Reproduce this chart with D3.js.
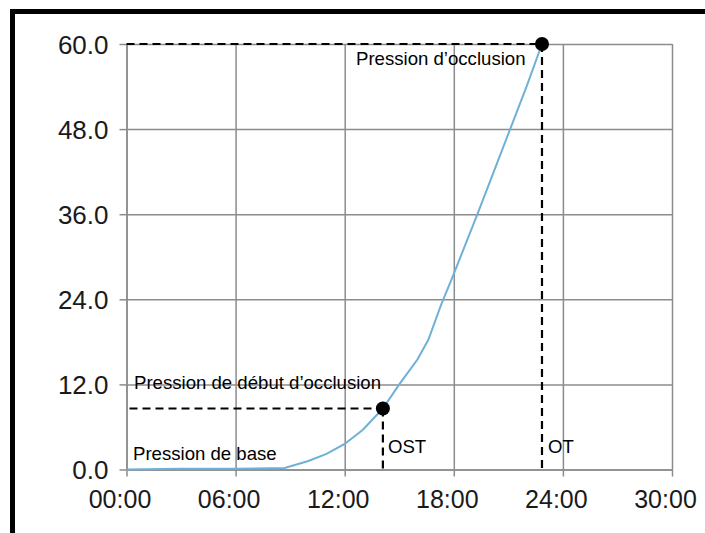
<!DOCTYPE html>
<meta charset="utf-8">
<html>
  <head>
    <script src="https://d3js.org/d3.v7.min.js"></script>
    <style type="text/css">
      body{
        margin: 0;
        background: #fff;
      }
      .grid line{
        stroke: #8c8c8c;
        stroke-width: 1.5;
      }
      .grid path{
        display: none;
      }
      .axis text{
        font-family: "Liberation Sans", Arial, sans-serif;
        fill: #1a1a1a;
      }
      .axis line, .axis path{
        stroke: #8c8c8c;
        stroke-width: 1.5;
      }
      .note{
        font-family: "Liberation Sans", Arial, sans-serif;
        font-size: 18.6px;
        fill: #000;
      }
    </style>
  </head>
  <body>
    <div id="plot"></div>
  </body>

  <script>
    // time in hours, pressure values
    var hours    = [0, 3, 6, 8.7, 10, 11, 12, 13, 14.1, 15, 16, 16.6, 17.3, 18, 19.3, 20.2, 21.1, 22, 22.85];
    var pressure = [0, 0.1, 0.1, 0.2, 1.2, 2.2, 3.6, 5.6, 8.6, 12.0, 15.5, 18.3, 23.2, 27.6, 36, 42, 48, 54, 60];

    var xTicks = [0, 6, 12, 18, 24, 30];
    var yTicks = [0, 12, 24, 36, 48, 60];

    // start of occlusion (OST) and occlusion (OT)
    var ost = {h: 14.1, p: 8.6};
    var ot  = {h: 22.85, p: 60};

    var W = 705, H = 533;
    var margin = {top:44, right:33, bottom:63.5, left:126.5},
        width = W-margin.left-margin.right,
        height = H-margin.top-margin.bottom;

    var root = d3.select("#plot").append("svg")
        .attr("width", W)
        .attr("height", H);

    root.append("rect").attr("width", W).attr("height", H).style("fill", "#fff");

    // black frame, top and left
    root.append("path")
        .attr("d", "M12.5,533 V11.5 H705")
        .style("fill", "none")
        .style("stroke", "#000")
        .style("stroke-width", 5);

    var svg = root.append("g")
        .attr("transform","translate("+margin.left+","+margin.top+")");

    var x = d3.scaleLinear().domain([0, 30]).range([0, width]);
    var y = d3.scaleLinear().domain([0, 60]).range([height, 0]);

    var pad = function(n){ return (n < 10 ? "0" : "") + n; };

    // grid
    svg.append("g")
       .attr("class","grid")
       .attr("transform", "translate(0," + height + ")")
       .call(d3.axisBottom(x).tickValues(xTicks).tickSize(-height).tickFormat(""));
    svg.append("g")
       .attr("class","grid")
       .call(d3.axisLeft(y).tickValues(yTicks).tickSize(-width).tickFormat(""));

    // axes
    var xAxis = svg.append("g")
        .attr("class","axis")
        .attr("transform", "translate(0," + height + ")")
        .call(d3.axisBottom(x).tickValues(xTicks).tickSize(7).tickSizeOuter(0)
          .tickFormat(function(d){ return pad(d) + ":00"; }));
    xAxis.selectAll("text")
        .style("font-size", "25px")
        .attr("dy", 0)
        .attr("y", 38)
        .attr("x", -7);

    var yAxis = svg.append("g")
        .attr("class","axis")
        .call(d3.axisLeft(y).tickValues(yTicks).tickSize(7).tickSizeOuter(0)
          .tickFormat(d3.format(".1f")));
    yAxis.selectAll("text")
        .style("font-size", "26px")
        .attr("x", -18)
        .attr("dy", "0.35em");

    // curve
    var line = d3.line()
        .x(function(d){ return x(d[0]); })
        .y(function(d){ return y(d[1]); });

    svg.append("path")
       .datum(d3.zip(hours, pressure))
       .attr("d", line)
       .style("fill", "none")
       .style("stroke", "#6fb0d6")
       .style("stroke-width", 2);

    // dashed guides
    var dash = function(x1, y1, x2, y2){
      svg.append("line")
         .attr("x1", x1).attr("y1", y1).attr("x2", x2).attr("y2", y2)
         .style("stroke", "#000")
         .style("stroke-width", 2.2)
         .style("stroke-dasharray", "8,5");
    };
    dash(0, y(ot.p), x(ot.h), y(ot.p));
    dash(x(ot.h), y(ot.p), x(ot.h), height);
    dash(x(0) + 3, y(ost.p), x(ost.h), y(ost.p));
    dash(x(ost.h), y(ost.p), x(ost.h), height);

    svg.selectAll(".dot")
       .data([ost, ot])
      .enter().append("circle")
       .attr("class", "dot")
       .attr("cx", function(d){ return x(d.h); })
       .attr("cy", function(d){ return y(d.p); })
       .attr("r", 7)
       .style("fill", "#000");

    // annotations
    var note = function(t, px, py){
      root.append("text").attr("class", "note").attr("x", px).attr("y", py).text(t);
    };
    note("Pression d\u2019occlusion", 356, 65);
    note("Pression de d\u00e9but d\u2019occlusion", 134, 389);
    note("Pression de base", 133, 460);
    note("OST", 388, 453);
    note("OT", 548, 453);
  </script>
</html>
